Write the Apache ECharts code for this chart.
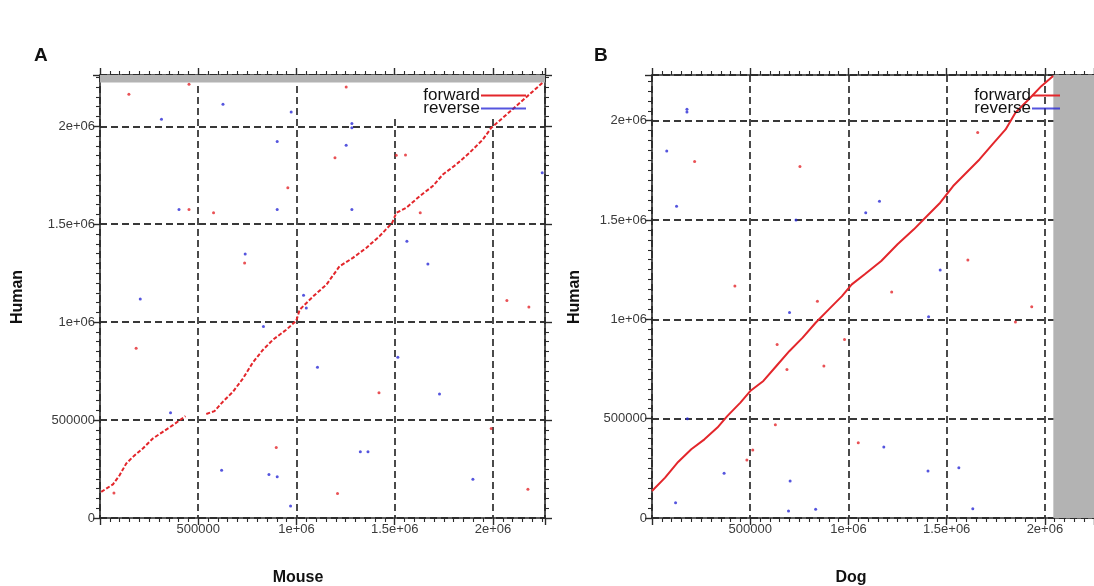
<!DOCTYPE html>
<html>
<head>
<meta charset="utf-8">
<script src="https://cdn.jsdelivr.net/npm/echarts@6/dist/echarts.min.js"></script>
<style>
  html, body { margin: 0; padding: 0; background: #fff; overflow: hidden; }
  #main { width: 1094px; height: 586px; }
</style>
</head>
<body>
<div id="main"></div>
<script>
// axis ranges (bp)
var mouseMax = 2265000, humanMaxA = 2262000, humanLenA = 2224000;
var dogMax = 2250000, humanMaxB = 2230000, dogLen = 2043000;
var tickStep = 500000;

// panel A: human vs mouse, forward hits along the diagonal (gap near 500 kb)
var mouseForward1 = [[6300,133000],[66000,172000],[99600,218000],[133500,278000],[167000,312000],
  [218000,355000],[269000,406000],[320000,440000],[371000,474000],[435000,520000]];
var mouseForward2 = [[541000,531000],[583000,546000],[626000,594000],[677000,645000],[728000,713000],
  [778000,794000],[829000,858000],[880000,910000],[948000,961000],[999000,1007000],[1016000,1063000],
  [1084000,1131000],[1152000,1191000],[1219000,1285000],[1287000,1328000],[1355000,1379000],
  [1423000,1439000],[1487000,1507000],[1508000,1558000],[1559000,1584000],[1627000,1643000],
  [1694000,1695000],[1745000,1754000],[1813000,1805000],[1881000,1865000],[1949000,1933000],
  [1992000,1993000],[2051000,2044000],[2119000,2104000],[2187000,2164000],[2254000,2224000]];
var mouseForwardDots = [[147000,2164000],[453000,2215000],[1253000,2201000],[1196000,1840000],
  [1508000,1852000],[1555000,1853000],[956000,1686000],[453000,1575000],[578000,1558000],
  [1630000,1558000],[736000,1302000],[2071000,1111000],[2183000,1077000],[184000,867000],
  [1420000,640000],[1991000,457000],[897000,360000],[71000,128000],[1209000,125000],[2178000,147000]];
var mouseReverse = [[626000,2113000],[973000,2073000],[313000,2036000],[1282000,2014000],[1282000,1993000],
  [902000,1923000],[1253000,1903000],[402000,1575000],[902000,1575000],[1282000,1575000],
  [1562000,1413000],[739000,1348000],[1669000,1297000],[205000,1118000],[1036000,1138000],
  [1050000,1072000],[832000,978000],[1516000,821000],[1107000,770000],[1728000,633000],
  [359000,538000],[2251000,1763000],[1325000,338000],[1364000,338000],[619000,244000],
  [860000,222000],[902000,210000],[1898000,198000],[970000,61000]];

// panel B: human vs dog
var dogForward = [[0,136000],[66700,203000],[133000,282000],[200000,346000],[267000,396000],
  [333000,455000],[383000,513000],[450000,581000],[500000,639000],[567000,690000],[633000,765000],
  [700000,841000],[767000,908000],[833000,983000],[900000,1050000],[967000,1117000],[1017000,1176000],
  [1083000,1227000],[1167000,1294000],[1250000,1378000],[1333000,1453000],[1400000,1520000],
  [1467000,1587000],[1533000,1671000],[1600000,1738000],[1667000,1805000],[1733000,1881000],
  [1800000,1956000],[1850000,2040000],[1917000,2107000],[1983000,2175000],[2042000,2225000]];
var dogForwardDots = [[217000,1795000],[753000,1769000],[1658000,1940000],[422000,1168000],
  [1608000,1299000],[842000,1091000],[1220000,1138000],[1933000,1064000],[1850000,987000],
  [637000,874000],[980000,899000],[687000,748000],[875000,765000],[628000,470000],
  [1050000,379000],[513000,342000],[483000,292000]];
var dogReverse = [[178000,2057000],[178000,2044000],[75000,1847000],[125000,1569000],[733000,1500000],
  [1158000,1594000],[1088000,1537000],[1467000,1248000],[1408000,1013000],[700000,1034000],
  [180000,500000],[367000,225000],[1180000,357000],[1405000,237000],[1562000,253000],
  [703000,186000],[120000,77000],[833000,44000],[695000,35000],[1633000,47000]];

var RED = '#e3262b', BLUE = '#2b2bd6', AXIS = '#2a2a2a';
var FONT = '"Liberation Sans", Arial, sans-serif';

function fmt(v) {
  if (v === 0) return '0';
  if (v % tickStep !== 0) return '';
  return v < 1000000 ? String(v) : (v / 1000000) + 'e+06';
}

function axis(gridIndex, max, pos, labels, showZero) {
  return {
    type: 'value', gridIndex: gridIndex, position: pos, min: 0, max: max, interval: tickStep,
    axisLine: { show: true, onZero: false, lineStyle: { color: AXIS, width: 1.6 } },
    axisTick: { show: true, length: 7, lineStyle: { color: AXIS, width: 1.4 } },
    minorTick: { show: true, splitNumber: 10, length: 4, lineStyle: { color: AXIS, width: 1.1 } },
    axisLabel: labels ? {
      show: true, color: '#3a3a3a', fontSize: 13, fontFamily: FONT, margin: 5,
      showMaxLabel: false,
      formatter: function (v) { return (v === 0 && !showZero) ? '' : fmt(v); }
    } : { show: false },
    splitLine: labels ? { show: true, lineStyle: { color: '#383838', type: [7, 4], width: 1.8 } } : { show: false },
    minorSplitLine: { show: false }
  };
}

var legendText = { fontSize: 17, lineHeight: 12, color: '#111', fontFamily: FONT, padding: [0, -4, 0, 0] };

var chart = echarts.init(document.getElementById('main'));
chart.setOption({
  animation: false,
  grid: [
    { left: 100, top: 75, width: 445, height: 443 },
    { left: 652, top: 75, width: 448, height: 443 }
  ],
  xAxis: [
    axis(0, mouseMax, 'bottom', true, false),
    axis(0, mouseMax, 'top', false, false),
    axis(1, dogMax, 'bottom', true, false),
    axis(1, dogMax, 'top', false, false)
  ],
  yAxis: [
    axis(0, humanMaxA, 'left', true, true),
    axis(0, humanMaxA, 'right', false, true),
    axis(1, humanMaxB, 'left', true, true)
  ],
  legend: [
    {
      data: ['forward', 'reverse'], orient: 'vertical', align: 'right',
      right: 568, top: 87, itemGap: -4, itemWidth: 45, itemHeight: 2, icon: 'rect',
      textStyle: legendText, padding: 0, selectedMode: false
    },
    {
      data: ['forward', 'reverse'], orient: 'vertical', align: 'right',
      right: 34, top: 87, itemGap: -4, itemWidth: 28, itemHeight: 2, icon: 'rect',
      textStyle: legendText, padding: 0, selectedMode: false
    }
  ],
  graphic: [
    { type: 'rect', z: 1, shape: { x: 394, y: 84, width: 150, height: 32 }, style: { fill: '#fff' } },
    { type: 'text', left: 34, top: 46, style: { text: 'A', font: 'bold 19px ' + FONT, fill: '#111' } },
    { type: 'text', left: 594, top: 46, style: { text: 'B', font: 'bold 19px ' + FONT, fill: '#111' } },
    { type: 'text', x: 18, y: 297, rotation: Math.PI / 2,
      style: { text: 'Human', font: 'bold 16px ' + FONT, fill: '#111', align: 'center', verticalAlign: 'middle' } },
    { type: 'text', x: 575, y: 297, rotation: Math.PI / 2,
      style: { text: 'Human', font: 'bold 16px ' + FONT, fill: '#111', align: 'center', verticalAlign: 'middle' } },
    { type: 'text', x: 298, y: 578,
      style: { text: 'Mouse', font: 'bold 16px ' + FONT, fill: '#111', align: 'center', verticalAlign: 'middle' } },
    { type: 'text', x: 851, y: 578,
      style: { text: 'Dog', font: 'bold 16px ' + FONT, fill: '#111', align: 'center', verticalAlign: 'middle' } }
  ],
  series: [
    {
      name: 'forward', type: 'line', xAxisIndex: 0, yAxisIndex: 0, data: mouseForward1,
      symbol: 'none', color: RED, lineStyle: { color: RED, width: 2, type: [4, 2] },
      markArea: { silent: true, itemStyle: { color: '#b3b3b3' },
        data: [[{ yAxis: humanLenA }, { yAxis: humanMaxA }]] }
    },
    {
      name: 'forward', type: 'line', xAxisIndex: 0, yAxisIndex: 0, data: mouseForward2,
      symbol: 'none', color: RED, lineStyle: { color: RED, width: 2, type: [4, 2] }
    },
    {
      name: 'forward', type: 'scatter', xAxisIndex: 0, yAxisIndex: 0, data: mouseForwardDots,
      symbolSize: 3, itemStyle: { color: RED, opacity: 0.8 }
    },
    {
      name: 'reverse', type: 'scatter', xAxisIndex: 0, yAxisIndex: 0, data: mouseReverse,
      symbolSize: 3, color: BLUE, itemStyle: { color: BLUE, opacity: 0.8 }
    },
    {
      name: 'forward', type: 'line', xAxisIndex: 2, yAxisIndex: 2, data: dogForward,
      symbol: 'none', color: RED, lineStyle: { color: RED, width: 2 },
      markArea: { silent: true, itemStyle: { color: '#b3b3b3' },
        data: [[{ xAxis: dogLen }, { xAxis: dogMax }]] }
    },
    {
      name: 'forward', type: 'scatter', xAxisIndex: 2, yAxisIndex: 2, data: dogForwardDots,
      symbolSize: 3, itemStyle: { color: RED, opacity: 0.8 }
    },
    {
      name: 'reverse', type: 'scatter', xAxisIndex: 2, yAxisIndex: 2, data: dogReverse,
      symbolSize: 3, color: BLUE, itemStyle: { color: BLUE, opacity: 0.8 }
    }
  ]
});
</script>
</body>
</html>
